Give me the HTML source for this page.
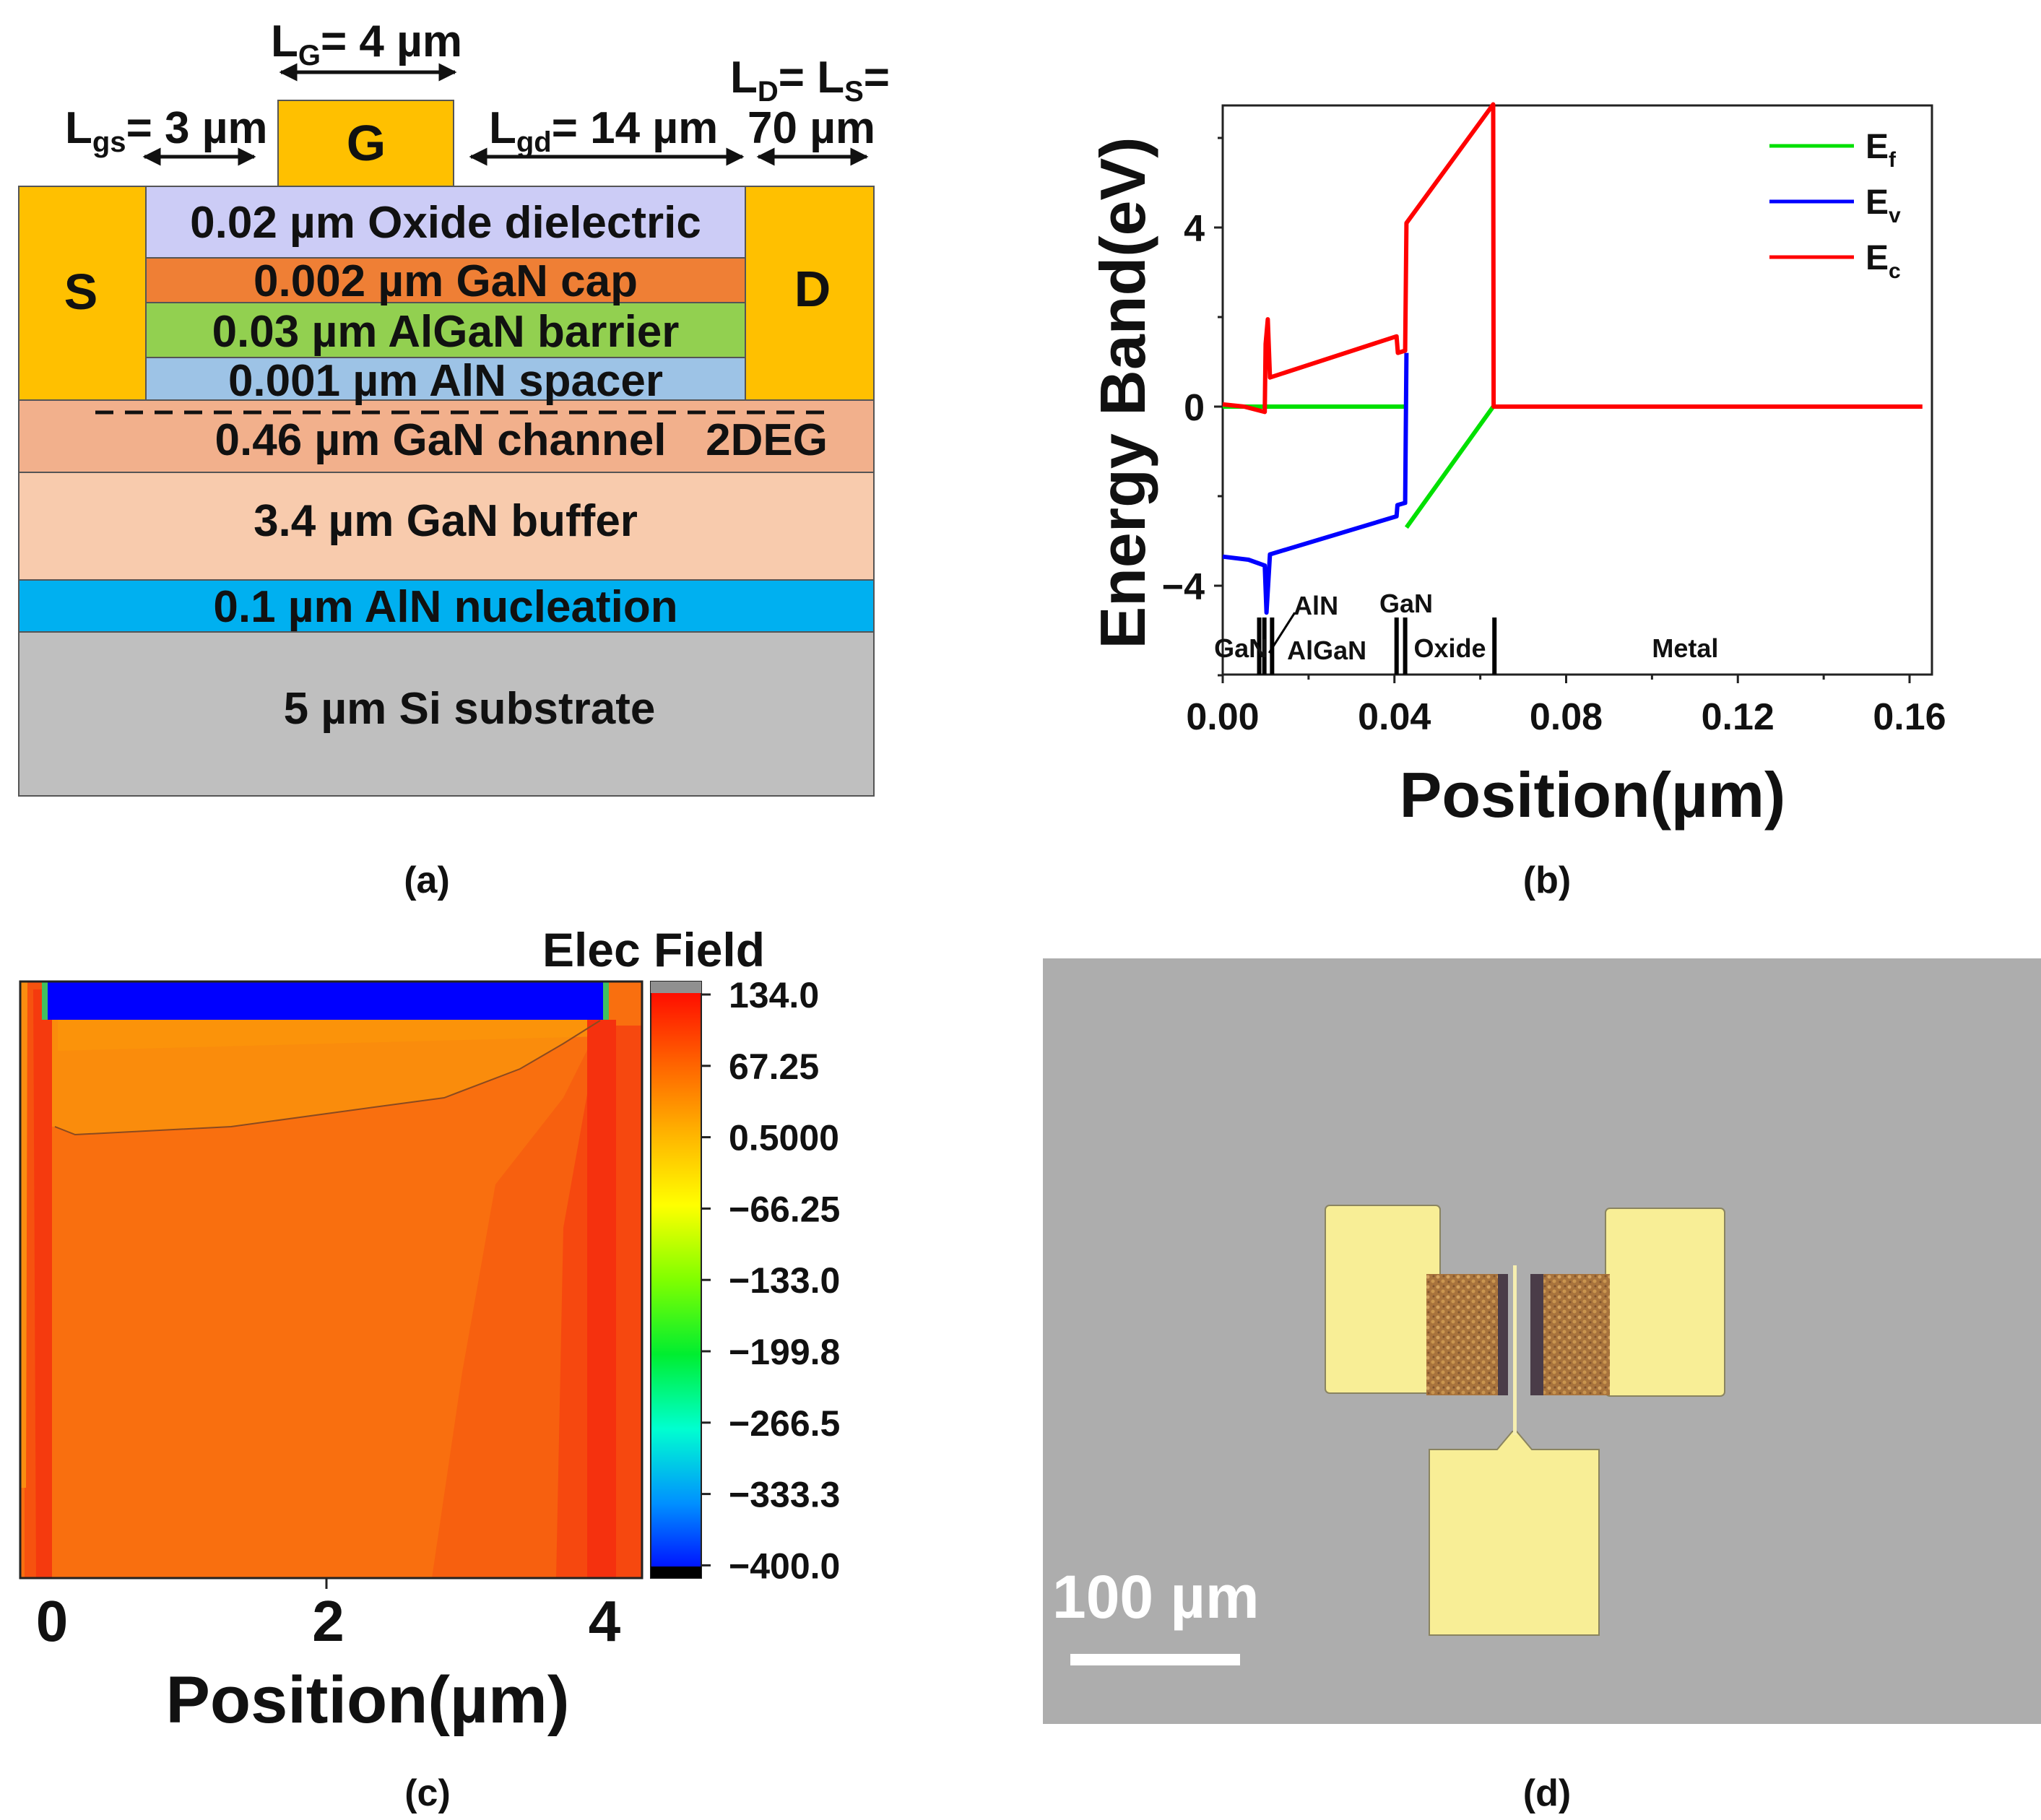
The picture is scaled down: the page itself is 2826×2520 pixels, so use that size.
<!DOCTYPE html>
<html><head><meta charset="utf-8"><style>
html,body{margin:0;padding:0;background:#fff;}
svg{display:block;font-family:"Liberation Sans",Arial,sans-serif;font-weight:bold;}
</style></head><body>
<svg id="fig" xmlns="http://www.w3.org/2000/svg" width="2826" height="2520" viewBox="0 0 2826 2520">
<defs>
<marker id="ah" viewBox="0 0 10 10" refX="9" refY="5" markerWidth="5" markerHeight="5" orient="auto-start-reverse"><path d="M0,0 L10,5 L0,10 z" fill="#111"/></marker>
<linearGradient id="cbg" x1="0" y1="0" x2="0" y2="1">
<stop offset="0" stop-color="#ff0000"/><stop offset="0.125" stop-color="#ff5a00"/><stop offset="0.25" stop-color="#ffb000"/><stop offset="0.375" stop-color="#ffff00"/><stop offset="0.5" stop-color="#80ff00"/><stop offset="0.625" stop-color="#00ee30"/><stop offset="0.75" stop-color="#00ffd0"/><stop offset="0.875" stop-color="#0090ff"/><stop offset="1" stop-color="#0000ff"/>
</linearGradient>
<pattern id="grain" width="14" height="14" patternUnits="userSpaceOnUse">
<rect width="14" height="14" fill="#a8733c"/><circle cx="3" cy="4" r="2.5" fill="#d4a260"/><circle cx="10" cy="10" r="2.5" fill="#c9954f"/><circle cx="11" cy="3" r="1.5" fill="#7c5230"/><circle cx="4" cy="11" r="1.5" fill="#80552f"/>
</pattern>
</defs>

<!-- ================= Panel A ================= -->
<g>
<rect x="26" y="258" width="176" height="296" fill="#ffc000" stroke="#555" stroke-width="2"/>
<rect x="1032" y="258" width="178" height="296" fill="#ffc000" stroke="#555" stroke-width="2"/>
<rect x="385" y="139" width="243" height="119" fill="#ffc000" stroke="#555" stroke-width="2"/>
<rect x="202" y="258" width="830" height="99" fill="#ccccf6" stroke="#555" stroke-width="2"/>
<rect x="202" y="357" width="830" height="62" fill="#ef7f35" stroke="#555" stroke-width="2"/>
<rect x="202" y="419" width="830" height="76" fill="#92d050" stroke="#555" stroke-width="2"/>
<rect x="202" y="495" width="830" height="59" fill="#9dc3e6" stroke="#555" stroke-width="2"/>
<rect x="26" y="554" width="1184" height="100" fill="#f2b08c" stroke="#555" stroke-width="2"/>
<rect x="26" y="654" width="1184" height="149" fill="#f8cbad" stroke="#555" stroke-width="2"/>
<rect x="26" y="803" width="1184" height="72" fill="#00b0f0" stroke="#555" stroke-width="2"/>
<rect x="26" y="875" width="1184" height="227" fill="#bfbfbf" stroke="#555" stroke-width="2"/>
<line x1="132" y1="571" x2="1146" y2="571" stroke="#111" stroke-width="5" stroke-dasharray="25 16"/>
<g font-size="62" fill="#111" text-anchor="middle">
<text x="112" y="428" font-size="70">S</text>
<text x="1125" y="424" font-size="70">D</text>
<text x="507" y="222" font-size="70">G</text>
<text x="617" y="329">0.02 µm Oxide dielectric</text>
<text x="617" y="410">0.002 µm GaN cap</text>
<text x="617" y="480">0.03 µm AlGaN barrier</text>
<text x="617" y="548">0.001 µm AlN spacer</text>
<text x="610" y="630">0.46 µm GaN channel</text>
<text x="1146" y="630" text-anchor="end">2DEG</text>
<text x="617" y="742">3.4 µm GaN buffer</text>
<text x="617" y="861">0.1 µm AlN nucleation</text>
<text x="650" y="1002">5 µm Si substrate</text>
</g>
<g font-size="62" fill="#111">
<text x="375" y="78">L<tspan font-size="40" dy="12">G</tspan><tspan dy="-12">= 4 µm</tspan></text>
<text x="90" y="198">L<tspan font-size="40" dy="12">gs</tspan><tspan dy="-12">= 3 µm</tspan></text>
<text x="677" y="198">L<tspan font-size="40" dy="12">gd</tspan><tspan dy="-12">= 14 µm</tspan></text>
<text x="1011" y="128">L<tspan font-size="40" dy="12">D</tspan><tspan dy="-12">= L</tspan><tspan font-size="40" dy="12">S</tspan><tspan dy="-12">=</tspan></text>
<text x="1035" y="198">70 µm</text>
</g>
<g stroke="#111" stroke-width="5" fill="none">
<line x1="389" y1="100" x2="630" y2="100" marker-start="url(#ah)" marker-end="url(#ah)"/>
<line x1="200" y1="217" x2="352" y2="217" marker-start="url(#ah)" marker-end="url(#ah)"/>
<line x1="652" y1="217" x2="1028" y2="217" marker-start="url(#ah)" marker-end="url(#ah)"/>
<line x1="1050" y1="217" x2="1200" y2="217" marker-start="url(#ah)" marker-end="url(#ah)"/>
</g>
<text x="591" y="1236" font-size="52" text-anchor="middle" fill="#111">(a)</text>
</g>

<!-- ================= Panel B ================= -->
<g id="pb">
<rect x="1693" y="146" width="982" height="788" fill="none" stroke="#222" stroke-width="3"/>
<text transform="translate(1585,544) rotate(-90)" font-size="88" text-anchor="middle" fill="#111">Energy Band(eV)</text>
<text x="2205" y="1131" font-size="88" text-anchor="middle" fill="#111">Position(µm)</text>
<text x="2142" y="1236" font-size="52" text-anchor="middle" fill="#111">(b)</text>
</g>

<!-- ================= Panel C ================= -->
<g>
<rect x="28" y="1359" width="861" height="826" fill="#f96f0f"/>
<path d="M64,1412 L837,1412 L831,1413 L780,1445 L720,1480 L615,1520 L518,1533 L320,1560 L104,1571 L76,1560 L64,1560 Z" fill="#fa8c0c"/>
<path d="M80,1412 L837,1412 L830,1435 L80,1455 Z" fill="#fb960a" opacity="0.7"/>
<path d="M686,1640 L780,1520 L830,1420 L889,1420 L889,2185 L598,2185 L640,1900 Z" fill="#f7600f"/>
<path d="M770,2185 L780,1700 L830,1420 L889,1420 L889,2185 Z" fill="#f6480f"/>
<rect x="813" y="1412" width="40" height="773" fill="#f5310e"/>
<path d="M34,1359 L72,1359 L72,2185 L34,2185 Z" fill="#f6520f"/>
<path d="M46,1370 L72,1370 L72,2185 L50,2185 Z" fill="#f53a0e"/>
<path d="M28,1359 L38,1359 L36,2060 L28,2060 Z" fill="#fa8d10"/>
<rect x="64" y="1359" width="773" height="53" fill="#0000ff"/>
<rect x="58" y="1359" width="8" height="53" fill="#40c060"/>
<rect x="835" y="1359" width="8" height="53" fill="#40c060"/>
<path d="M76,1560 L104,1571 L320,1560 L518,1533 L615,1520 L720,1480 L780,1445 L831,1413" fill="none" stroke="#8a4a20" stroke-width="2"/>
<rect x="28" y="1359" width="861" height="826" fill="none" stroke="#222" stroke-width="3"/>
<line x1="452" y1="2185" x2="452" y2="2200" stroke="#222" stroke-width="3"/>
<g id="pcx" font-size="80" text-anchor="middle" fill="#111"></g>
<text x="509" y="2385" font-size="92" text-anchor="middle" fill="#111">Position(µm)</text>
<rect x="901" y="1359" width="70" height="826" fill="url(#cbg)" stroke="#222" stroke-width="2"/>
<rect x="901" y="1359" width="70" height="16" fill="#909090"/>
<rect x="901" y="2169" width="70" height="16" fill="#000"/>
<text x="905" y="1338" font-size="66" text-anchor="middle" fill="#111">Elec Field</text>
<g id="pccb" font-size="50" fill="#111"></g>
<text x="592" y="2500" font-size="52" text-anchor="middle" fill="#111">(c)</text>
</g>

<!-- ================= Panel D ================= -->
<g>
<rect x="1444" y="1327" width="1382" height="1060" fill="#adadad"/>
<rect x="1835" y="1669" width="159" height="260" rx="6" fill="#f8ee96" stroke="#8a8460" stroke-width="2"/>
<rect x="2223" y="1673" width="165" height="260" rx="6" fill="#f8ee96" stroke="#8a8460" stroke-width="2"/>
<path d="M1979,2007 L2073,2007 L2094,1982 L2100,1982 L2121,2007 L2214,2007 L2214,2264 L1979,2264 Z" fill="#f8ee96" stroke="#8a8460" stroke-width="2"/>
<rect x="1975" y="1764" width="113" height="168" fill="url(#grain)"/>
<rect x="2074" y="1764" width="14" height="168" fill="#4a3c48"/>
<rect x="2119" y="1764" width="110" height="168" fill="url(#grain)"/>
<rect x="2119" y="1764" width="18" height="168" fill="#4a3c48"/>
<rect x="2095" y="1752" width="5" height="235" fill="#f6eeb0"/>
<text x="1457" y="2240" font-size="84" fill="#fff">100 µm</text>
<rect x="1482" y="2290" width="235" height="16" fill="#fff"/>
<text x="2142" y="2500" font-size="52" text-anchor="middle" fill="#111">(d)</text>
</g>
</svg>

<script>
// ---- Panel B data ----
const xTicksB = [0, 0.04, 0.08, 0.12, 0.16];
const xTickLabelsB = ["0.00", "0.04", "0.08", "0.12", "0.16"];
const yTicksB = [-4, 0, 4];
const yTickLabelsB = ["\u22124", "0", "4"];
const ecX = [0, 0.005, 0.0098, 0.0100, 0.0105, 0.0110, 0.0405, 0.0408, 0.0425, 0.0428, 0.0630, 0.0631, 0.163];
const ecY = [0.05, 0.0, -0.12, 1.4, 1.95, 0.65, 1.57, 1.2, 1.25, 4.1, 6.75, 0, 0];
const evX = [0, 0.006, 0.0098, 0.0102, 0.0110, 0.0405, 0.0407, 0.0425, 0.0428];
const evY = [-3.35, -3.42, -3.55, -4.6, -3.3, -2.45, -2.2, -2.15, 1.2];
const efX = [0, 0.0423];
const efY = [0, 0];
const efOxX = [0.0428, 0.0630];
const efOxY = [-2.7, 0];
const regionX = [0.0085, 0.0097, 0.0115, 0.0405, 0.0425, 0.0633];
const regionNames = ["GaN", "AlN", "AlGaN", "GaN", "Oxide", "Metal"];
const regionLabelX = [-0.002, 0.0165, 0.0150, 0.0365, 0.0445, 0.1];
const regionLabelY = [-5.4, -4.45, -5.45, -4.4, -5.4, -5.4];
const legendNames = ["f", "v", "c"];
const legendColors = ["#00e000", "#0000ff", "#ff0000"];

const NS = "http://www.w3.org/2000/svg";
const xB = v => 1693 + v * (951 / 0.16);
const yB = v => 563 - v * 62;
const pb = document.getElementById("pb");
function mk(tag, attrs, parent) {
  const el = document.createElementNS(NS, tag);
  for (const k in attrs) el.setAttribute(k, attrs[k]);
  parent.appendChild(el);
  return el;
}
xTicksB.forEach((t, i) => {
  const tk = mk("line", {x1: xB(t), x2: xB(t), y1: 934, y2: 946, stroke: "#222", "stroke-width": 3}, pb);
  
  
  const lb = mk("text", {x: xB(t), y: 1010, "font-size": 52, "text-anchor": "middle", fill: "#111"}, pb);
  lb.textContent = xTickLabelsB[i];
  
  
  if (i < xTicksB.length - 1) {
    const mn = mk("line", {x1: xB(t + 0.02), x2: xB(t + 0.02), y1: 934, y2: 941, stroke: "#222", "stroke-width": 3}, pb);
    
    
  }
});
yTicksB.forEach((t, i) => {
  const tk = mk("line", {x1: 1681, x2: 1693, y1: yB(t), y2: yB(t), stroke: "#222", "stroke-width": 3}, pb);
  
  
  const lb = mk("text", {x: 1668, y: yB(t) + 19, "font-size": 52, "text-anchor": "end", fill: "#111"}, pb);
  lb.textContent = yTickLabelsB[i];
  
  
});
[-6, -2, 2, 6].forEach(t => {
  const mn = mk("line", {x1: 1686, x2: 1693, y1: yB(t), y2: yB(t), stroke: "#222", "stroke-width": 3}, pb);
  
  
});
function series(xs, ys, color, name) {
  const d = xs.map((x, i) => (i ? "L" : "M") + xB(x).toFixed(1) + "," + yB(ys[i]).toFixed(1)).join(" ");
  const p = mk("path", {d: d, fill: "none", stroke: color, "stroke-width": 6, "stroke-linejoin": "round"}, pb);
  
  
}
series(efX, efY, "#00e000", "ef-line");
series(efOxX, efOxY, "#00e000", "ef-oxide-line");
series(evX, evY, "#0000ff", "ev-line");
series(ecX, ecY, "#ff0000", "ec-line");
regionX.forEach(x => {
  const l = mk("line", {x1: xB(x), x2: xB(x), y1: 855, y2: 934, stroke: "#000", "stroke-width": 6}, pb);
  
  
});
regionNames.forEach((n, i) => {
  const t = mk("text", {x: xB(regionLabelX[i]), y: yB(regionLabelY[i]) + 12, "font-size": 36, fill: "#111"}, pb);
  t.textContent = n;
  
  
});
const ar = mk("line", {x1: xB(0.0108), y1: yB(-5.5), x2: xB(0.0168), y2: yB(-4.6), stroke: "#000", "stroke-width": 3}, pb);


legendNames.forEach((n, i) => {
  const y = 202 + i * 77;
  const l = mk("line", {x1: 2450, x2: 2567, y1: y, y2: y, stroke: legendColors[i], "stroke-width": 5}, pb);
  
  
  const t = mk("text", {x: 2583, y: y + 17, "font-size": 48, fill: "#111"}, pb);
  t.innerHTML = 'E<tspan font-size="30" dy="12">' + n + '</tspan>';
  
  
});

// ---- Panel C data ----
const cbTickLabels = ["134.0", "67.25", "0.5000", "\u221266.25", "\u2212133.0", "\u2212199.8", "\u2212266.5", "\u2212333.3", "\u2212400.0"];
const xTicksC = [0, 2, 4];
const xC = v => 72 + v * (765 / 4);
const pccb = document.getElementById("pccb");
cbTickLabels.forEach((s, i) => {
  const y = 1377 + i * 98.8;
  const tk = mk("line", {x1: 971, x2: 984, y1: y, y2: y, stroke: "#222", "stroke-width": 3}, pccb);
  
  
  const t = mk("text", {x: 1009, y: y + 18}, pccb);
  t.textContent = s;
  
  
});
const pcx = document.getElementById("pcx");
xTicksC.forEach(v => {
  const t = mk("text", {x: xC(v), y: 2272}, pcx);
  t.textContent = String(v);
  
  
});
</script>
</body></html>
